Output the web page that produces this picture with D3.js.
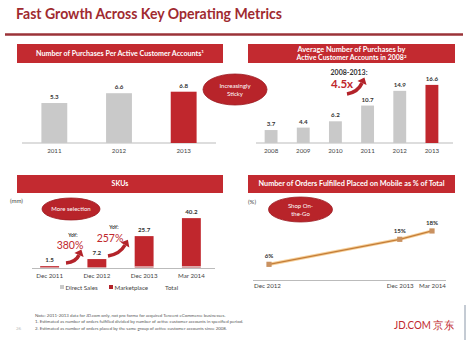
<!DOCTYPE html>
<html><head><meta charset="utf-8">
<script src="https://cdn.jsdelivr.net/npm/d3@7"></script>
<style>
html,body{margin:0;padding:0;background:#fff;}
svg{display:block;font-family:Lato,"Open Sans",sans-serif;}
</style></head>
<body><svg id="c" width="466" height="357"></svg>
<script>
// ---- data ----
const p1Years = ["2011","2012","2013"];
const p1Values = [5.3, 6.6, 6.8];
const p2Years = ["2008","2009","2010","2011","2012","2013"];
const p2Values = [3.7, 4.4, 6.2, 10.7, 14.9, 16.6];
const p3Periods = ["Dec 2011","Dec 2012","Dec 2013","Mar 2014"];
const p3Direct = [0.4, 0.8, 1.2, 1.5];
const p3Total = [1.5, 7.2, 25.7, 40.2];
const p4Periods = ["Dec 2012","Dec 2013","Mar 2014"];
const p4Dates = ["2012-12-01","2013-12-01","2014-03-01"];
const p4Values = [6, 15, 18];
const notes = [
  "Note: 2011-2013 data for JD.com only, not pro forma for acquired Tencent eCommerce businesses.",
  "1. Estimated as number of orders fulfilled divided by number of active customer accounts in specified period.",
  "2. Estimated as number of orders placed by the same group of active customer accounts since 2008."
];

const RED = "#c0272d", GRAY = "#c9c9c9", DARK = "#333";
const svg = d3.select("#c");

// title
svg.append("text").attr("x",16).attr("y",19).attr("font-size",14.5).attr("font-weight","bold")
  .attr("fill","#a02a30").attr("textLength",266).attr("lengthAdjust","spacingAndGlyphs")
  .text("Fast Growth Across Key Operating Metrics");
svg.append("line").attr("x1",5).attr("x2",463).attr("y1",34.5).attr("y2",34.5)
  .attr("stroke","#9b3338").attr("stroke-width",2.5);

function header(x, y, w, h, lines, widths){
  svg.append("rect").attr("x",x).attr("y",y).attr("width",w).attr("height",h).attr("fill","#c32a30");
  const n = lines.length;
  lines.forEach((t,i)=>{
    const cy = y + h/2 + (i - (n-1)/2)*8.5;
    const tx = svg.append("text").attr("x",x+w/2).attr("y",cy+2.4).attr("text-anchor","middle")
      .attr("font-size",7).attr("font-weight","bold").attr("fill","#fff");
    if (widths && widths[i]) tx.attr("textLength",widths[i]).attr("lengthAdjust","spacingAndGlyphs");
    if (Array.isArray(t)) { tx.text(t[0]); tx.append("tspan").attr("dy",-2.5).attr("font-size",4.5).text(t[1]); }
    else tx.text(t);
  });
}
function ellipse(cx, cy, rx, ry, lines){
  svg.append("ellipse").attr("cx",cx).attr("cy",cy).attr("rx",rx).attr("ry",ry)
    .attr("fill","#b8242a").attr("stroke","#9c1c22").attr("stroke-width",0.8);
  lines.forEach((t,i)=>{
    svg.append("text").attr("x",cx).attr("y",cy + (i-(lines.length-1)/2)*8 + 2.2)
      .attr("text-anchor","middle").attr("font-size",6).attr("fill","#fff").text(t);
  });
}
function arrow(x0,y0,cx,cy,x1,y1){
  svg.append("path").attr("d",`M${x0},${y0} Q${cx},${cy} ${x1},${y1}`)
    .attr("fill","none").attr("stroke","#b3232a").attr("stroke-width",3.6);
  const ang = Math.atan2(y1-cy, x1-cx);
  const L = 6, W = 5;
  const tip = [x1 + Math.cos(ang)*L, y1 + Math.sin(ang)*L];
  const b1 = [x1 + Math.cos(ang+Math.PI/2)*W, y1 + Math.sin(ang+Math.PI/2)*W];
  const b2 = [x1 + Math.cos(ang-Math.PI/2)*W, y1 + Math.sin(ang-Math.PI/2)*W];
  svg.append("path").attr("d",`M${tip} L${b1} L${b2} Z`).attr("fill","#b3232a");
}
function xLabels(scale, labels, y){
  const g = svg.append("g").attr("transform",`translate(0,${y})`)
    .call(d3.axisBottom(scale).tickSize(0).tickPadding(0));
  g.select(".domain").remove();
  g.selectAll("text").attr("font-size",6.2).attr("fill","#444").attr("font-family","Lato,sans-serif");
  return g;
}

// ---- Panel 1 ----
header(17,44,206,19,[["Number of Purchases Per Active Customer Accounts","1"]],[168]);
const x1 = d3.scaleBand().domain(p1Years).range([22,216]).paddingInner(0.6).paddingOuter(0.3);
const y1 = d3.scaleLinear().domain([0,7]).range([143,90.2]);
svg.append("line").attr("x1",22).attr("x2",216).attr("y1",143).attr("y2",143).attr("stroke","#aaa").attr("stroke-width",0.8);
svg.selectAll(".b1").data(p1Values).join("rect")
  .attr("x",(d,i)=>x1(p1Years[i])).attr("width",x1.bandwidth())
  .attr("y",d=>y1(d)).attr("height",d=>y1(0)-y1(d))
  .attr("fill",(d,i)=>i===p1Values.length-1?RED:GRAY);
svg.selectAll(".l1").data(p1Values).join("text")
  .attr("x",(d,i)=>x1(p1Years[i])+x1.bandwidth()/2).attr("y",d=>y1(d)-4)
  .attr("text-anchor","middle").attr("font-size",6.2).attr("font-weight","bold").attr("fill",DARK)
  .text(d=>d.toFixed(1));
xLabels(x1, p1Years, 149).selectAll("text").attr("dy","0.71em");

ellipse(235,89.5,32,15.5,["Increasingly","Sticky"]);

// ---- Panel 2 ----
header(248,44,207,19,["Average Number of Purchases by",["Active Customer Accounts in 2008","2"]],[108,110]);
const x2 = d3.scaleBand().domain(p2Years).range([255,448]).paddingInner(0.6).paddingOuter(0.3);
const y2 = d3.scaleLinear().domain([0,17]).range([143,83.5]);
svg.append("line").attr("x1",256).attr("x2",453).attr("y1",143).attr("y2",143).attr("stroke","#aaa").attr("stroke-width",0.8);
svg.selectAll(".b2").data(p2Values).join("rect")
  .attr("x",(d,i)=>x2(p2Years[i])).attr("width",x2.bandwidth())
  .attr("y",d=>y2(d)).attr("height",d=>y2(0)-y2(d))
  .attr("fill",(d,i)=>i===p2Values.length-1?RED:GRAY);
svg.selectAll(".l2").data(p2Values).join("text")
  .attr("x",(d,i)=>x2(p2Years[i])+x2.bandwidth()/2).attr("y",d=>y2(d)-4)
  .attr("text-anchor","middle").attr("font-size",6.2).attr("font-weight","bold").attr("fill",DARK)
  .text(d=>d.toFixed(1));
xLabels(x2, p2Years, 149).selectAll("text").attr("dy","0.71em");
svg.append("text").attr("x",349).attr("y",74.5).attr("text-anchor","middle").attr("font-size",7)
  .attr("font-weight","bold").attr("fill",DARK).text("2008-2013:");
svg.append("text").attr("x",331).attr("y",88).attr("font-size",11.5).attr("font-weight","bold")
  .attr("fill",RED).text("4.5x");
arrow(347,94,358,92,362,83);

// ---- Panel 3 ----
header(17,175,206,18,["SKUs"]);
svg.append("text").attr("x",10).attr("y",203).attr("font-size",6).attr("fill","#444").text("(mm)");
const x3 = d3.scaleBand().domain(p3Periods).range([26,215]).paddingInner(0.6).paddingOuter(0.3);
const y3 = d3.scaleLinear().domain([0,42]).range([268,215.9]);
svg.append("line").attr("x1",32).attr("x2",215).attr("y1",268.5).attr("y2",268.5).attr("stroke","#aaa").attr("stroke-width",0.8);
svg.selectAll(".b3m").data(p3Total).join("rect")
  .attr("x",(d,i)=>x3(p3Periods[i])).attr("width",x3.bandwidth())
  .attr("y",d=>y3(d)).attr("height",(d,i)=>y3(p3Direct[i])-y3(d))
  .attr("fill",RED);
svg.selectAll(".b3d").data(p3Direct).join("rect")
  .attr("x",(d,i)=>x3(p3Periods[i])).attr("width",x3.bandwidth())
  .attr("y",d=>y3(d)).attr("height",d=>y3(0)-y3(d))
  .attr("fill","#d9a0a2");
svg.selectAll(".l3").data(p3Total).join("text")
  .attr("x",(d,i)=>x3(p3Periods[i])+x3.bandwidth()/2).attr("y",d=>y3(d)-4)
  .attr("text-anchor","middle").attr("font-size",6.2).attr("font-weight","bold").attr("fill",DARK)
  .text(d=>d.toFixed(1));
xLabels(x3, p3Periods, 274).selectAll("text").attr("dy","0.71em");
// legend
const leg = [["Direct Sales","#c9c9c9",60],["Marketplace","#b3232a",109],["Total",null,165]];
leg.forEach(([t,c,x])=>{
  if (c) svg.append("rect").attr("x",x).attr("y",285).attr("width",4).attr("height",4).attr("fill",c);
  svg.append("text").attr("x",c?x+5.5:x).attr("y",289.5).attr("font-size",6.2).attr("fill","#444").text(t);
});
ellipse(71,209,29,11,["More selection"]);
svg.append("text").attr("x",73).attr("y",237).attr("text-anchor","middle").attr("font-size",5).attr("font-weight","bold").attr("fill",DARK).text("YoY:");
svg.append("text").attr("x",70).attr("y",249).attr("text-anchor","middle").attr("font-size",10.5).attr("fill",RED).text("380%");
svg.append("text").attr("x",114).attr("y",229).attr("text-anchor","middle").attr("font-size",5).attr("font-weight","bold").attr("fill",DARK).text("YoY:");
svg.append("text").attr("x",110).attr("y",242).attr("text-anchor","middle").attr("font-size",10.5).attr("fill",RED).text("257%");
arrow(66,263,76,262,79,255);
arrow(108,256,120,254,125,245);

// ---- Panel 4 ----
header(248,175,207,18,["Number of Orders Fulfilled Placed on Mobile as % of Total"],[186]);
svg.append("text").attr("x",248).attr("y",204).attr("font-size",6).attr("fill","#444").text("(%)");
const parse = d3.timeParse("%Y-%m-%d");
const dates = p4Dates.map(parse);
const x4 = d3.scaleTime().domain([dates[0], dates[2]]).range([269,432]);
const y4 = d3.scaleLinear().domain([0,20]).range([281,225.4]);
svg.append("line").attr("x1",253).attr("x2",446).attr("y1",280.5).attr("y2",280.5).attr("stroke","#aaa").attr("stroke-width",0.8);
const line = d3.line().x((d,i)=>x4(dates[i])).y(d=>y4(d));
svg.append("path").attr("d",line(p4Values)).attr("fill","none").attr("stroke","#f6cf98").attr("stroke-width",3.2);
svg.append("path").attr("d",line(p4Values)).attr("fill","none").attr("stroke","#c47d38").attr("stroke-width",1.3);
svg.selectAll(".m4").data(p4Values).join("rect")
  .attr("x",(d,i)=>x4(dates[i])-2.6).attr("y",d=>y4(d)-2.6).attr("width",5.2).attr("height",5.2)
  .attr("fill","#c99160");
svg.selectAll(".l4").data(p4Values).join("text")
  .attr("x",(d,i)=>x4(dates[i])).attr("y",d=>y4(d)-6)
  .attr("text-anchor","middle").attr("font-size",6.2).attr("font-weight","bold").attr("fill",DARK)
  .text(d=>d+"%");
const ax4 = svg.append("g").attr("transform","translate(0,284)")
  .call(d3.axisBottom(x4).tickValues(dates).tickFormat((d,i)=>p4Periods[i]).tickSize(0).tickPadding(0));
ax4.select(".domain").remove();
ax4.selectAll("text").attr("font-size",6.2).attr("fill","#444").attr("font-family","Lato,sans-serif").attr("dy","0.71em");
ax4.selectAll(".tick").filter((d,i)=>i===0).select("text").attr("dx",-2);
ellipse(300.5,209.5,32,12.5,["Shop On-","the-Go"]);

// ---- footer ----
notes.forEach((t,i)=>{
  svg.append("text").attr("x",35).attr("y",316.5+i*6.6).attr("font-size",4.4).attr("fill","#555").text(t);
});
svg.append("text").attr("x",16).attr("y",329.5).attr("font-size",4.5).attr("fill","#bbb").text("26");
svg.append("text").attr("x",394).attr("y",328.5).attr("font-size",10.5).attr("fill","#c0272d")
  .attr("textLength",60).attr("lengthAdjust","spacingAndGlyphs")
  .text("JD.COM 京东");
svg.append("line").attr("x1",465).attr("x2",465).attr("y1",305).attr("y2",340).attr("stroke","#8a97a8").attr("stroke-width",1);
</script>
</body></html>
